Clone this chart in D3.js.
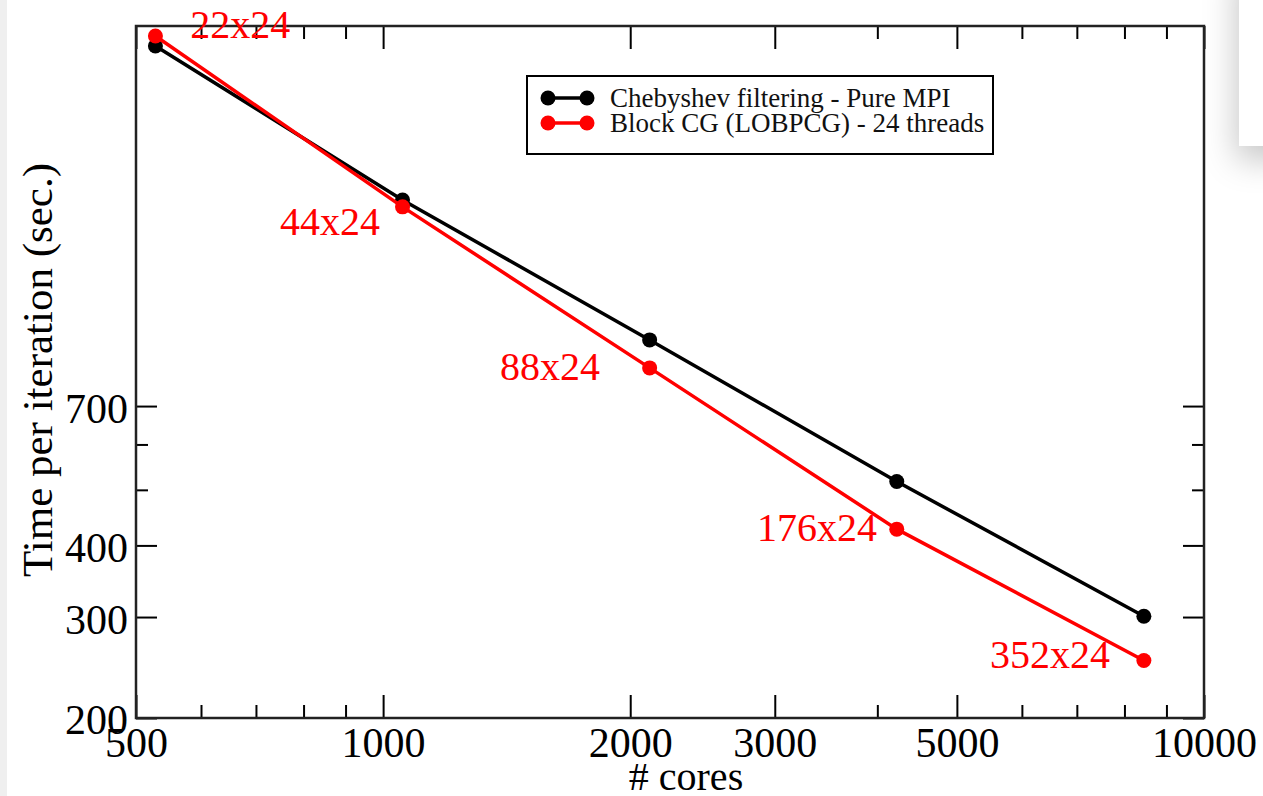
<!DOCTYPE html>
<meta charset="utf-8">
<style>
body { margin: 0; background: #fff; }
svg { display: block; }
text { font-family: "Liberation Serif", "Times New Roman", serif; }
.tick text { font-size: 42px; fill: #000; }
.tick line { stroke: #000; stroke-width: 2px; }
.frame { fill: none; stroke: #222; stroke-width: 2.5px; }
.title { font-size: 40px; fill: #000; }
.ytitle { font-size: 43px; }
.ptlabel { font-size: 40px; fill: #ff0000; }
.legend text { font-size: 27px; fill: #111; }
</style>
<svg width="1263" height="796"></svg>
<script src="https://d3js.org/d3.v7.min.js"></script>
<script>

// measured values
var cores = [528, 1056, 2112, 4224, 8448],
    chebyshev = [2973, 1601, 913, 517, 301],
    lobpcg = [3094, 1558, 816, 427, 252];

// red annotations, anchored in data coordinates (cores, time)
var ptLabels = ["22x24", "44x24", "88x24", "176x24", "352x24"],
    ptLabelCores = [582, 749, 1388, 2854, 5487],
    ptLabelTimes = [3070, 1391, 777, 407, 244.5];

var xMajor = [500, 1000, 2000, 3000, 5000, 10000],
    xMinor = [600, 700, 800, 900, 4000, 6000, 7000, 8000, 9000],
    yMajor = [200, 300, 400, 700],
    yMinor = [500, 600];

var seriesNames = ["Chebyshev filtering - Pure MPI", "Block CG (LOBPCG) - 24 threads"],
    seriesColors = ["#000000", "#ff0000"];

var svg = d3.select("svg"),
    pLeft = 136, pRight = 1204, pTop = 26, pBottom = 718;

// screenshot leftovers: grey strip at left, shadowed panel at right
var defs = svg.append("defs");
defs.append("filter").attr("id", "shade")
    .attr("x", "-200%").attr("y", "-100%").attr("width", "400%").attr("height", "300%")
  .append("feDropShadow")
    .attr("dx", -3).attr("dy", 14).attr("stdDeviation", 16)
    .attr("flood-color", "#000").attr("flood-opacity", 0.22);
svg.append("rect").attr("x", 0).attr("y", 0).attr("width", 7).attr("height", 796).attr("fill", "#efefef");
svg.append("rect").attr("x", 1239).attr("y", -40).attr("width", 60).attr("height", 186)
    .attr("fill", "#fff").attr("filter", "url(#shade)");

var x = d3.scaleLog().domain([500, 10000]).range([pLeft, pRight]),
    y = d3.scaleLog().domain([200, 3221]).range([pBottom, pTop]);

function styleAxis(g) {
  g.select(".domain").remove();
}

// bottom
svg.append("g").attr("transform", "translate(0," + pBottom + ")")
    .call(d3.axisBottom(x).tickValues(xMajor).tickSize(-23).tickFormat(d3.format("d")))
    .call(styleAxis)
    .call(function(g) {
      g.selectAll(".tick text").attr("y", 39).attr("dy", null);
    });
svg.append("g").attr("transform", "translate(0," + pBottom + ")")
    .call(d3.axisBottom(x).tickValues(xMinor).tickSize(-13).tickFormat(""))
    .call(styleAxis);
// top
svg.append("g").attr("transform", "translate(0," + pTop + ")")
    .call(d3.axisTop(x).tickValues(xMajor).tickSize(-23).tickFormat(""))
    .call(styleAxis);
svg.append("g").attr("transform", "translate(0," + pTop + ")")
    .call(d3.axisTop(x).tickValues(xMinor).tickSize(-13).tickFormat(""))
    .call(styleAxis);
// left
svg.append("g").attr("transform", "translate(" + pLeft + ",0)")
    .call(d3.axisLeft(y).tickValues(yMajor).tickSize(-21).tickFormat(d3.format("d")))
    .call(styleAxis)
    .call(function(g) {
      g.selectAll(".tick text").attr("x", -8).attr("dy", "0.38em");
    });
svg.append("g").attr("transform", "translate(" + pLeft + ",0)")
    .call(d3.axisLeft(y).tickValues(yMinor).tickSize(-12).tickFormat(""))
    .call(styleAxis);
// right
svg.append("g").attr("transform", "translate(" + pRight + ",0)")
    .call(d3.axisRight(y).tickValues(yMajor).tickSize(-21).tickFormat(""))
    .call(styleAxis);
svg.append("g").attr("transform", "translate(" + pRight + ",0)")
    .call(d3.axisRight(y).tickValues(yMinor).tickSize(-12).tickFormat(""))
    .call(styleAxis);

svg.append("rect").attr("class", "frame")
    .attr("x", pLeft).attr("y", pTop)
    .attr("width", pRight - pLeft).attr("height", pBottom - pTop);

// axis titles
svg.append("text").attr("class", "title")
    .attr("x", 686).attr("y", 790)
    .attr("text-anchor", "middle")
    .text("# cores");
svg.append("text").attr("class", "title ytitle")
    .attr("transform", "translate(52,370) rotate(-90)")
    .attr("text-anchor", "middle")
    .text("Time per iteration (sec.)");

// series
var line = d3.line()
    .x(function(d) { return x(d[0]); })
    .y(function(d) { return y(d[1]); });

[chebyshev, lobpcg].forEach(function(vals, i) {
  var pts = cores.map(function(c, j) { return [c, vals[j]]; });
  svg.append("path")
      .datum(pts)
      .attr("fill", "none")
      .attr("stroke", seriesColors[i])
      .attr("stroke-width", 3.5)
      .attr("d", line);
  svg.selectAll(null)
      .data(pts)
      .enter().append("circle")
      .attr("cx", function(d) { return x(d[0]); })
      .attr("cy", function(d) { return y(d[1]); })
      .attr("r", 7.5)
      .attr("fill", seriesColors[i]);
});

// red annotations
svg.selectAll(".ptlabel")
    .data(ptLabels)
    .enter().append("text")
    .attr("class", "ptlabel")
    .attr("x", function(d, i) { return x(ptLabelCores[i]); })
    .attr("y", function(d, i) { return y(ptLabelTimes[i]); })
    .text(function(d) { return d; });

// legend
var legend = svg.append("g").attr("class", "legend");
legend.append("rect")
    .attr("x", 527).attr("y", 76).attr("width", 466).attr("height", 78)
    .attr("fill", "#fff").attr("stroke", "#000").attr("stroke-width", 2);
seriesNames.forEach(function(name, i) {
  var ly = 98 + i * 25;
  legend.append("line")
      .attr("x1", 548).attr("x2", 587).attr("y1", ly).attr("y2", ly)
      .attr("stroke", seriesColors[i]).attr("stroke-width", 3.5);
  [548, 587].forEach(function(cx) {
    legend.append("circle").attr("cx", cx).attr("cy", ly).attr("r", 7.5).attr("fill", seriesColors[i]);
  });
  legend.append("text").attr("x", 610).attr("y", ly + 9).text(name);
});

</script>
